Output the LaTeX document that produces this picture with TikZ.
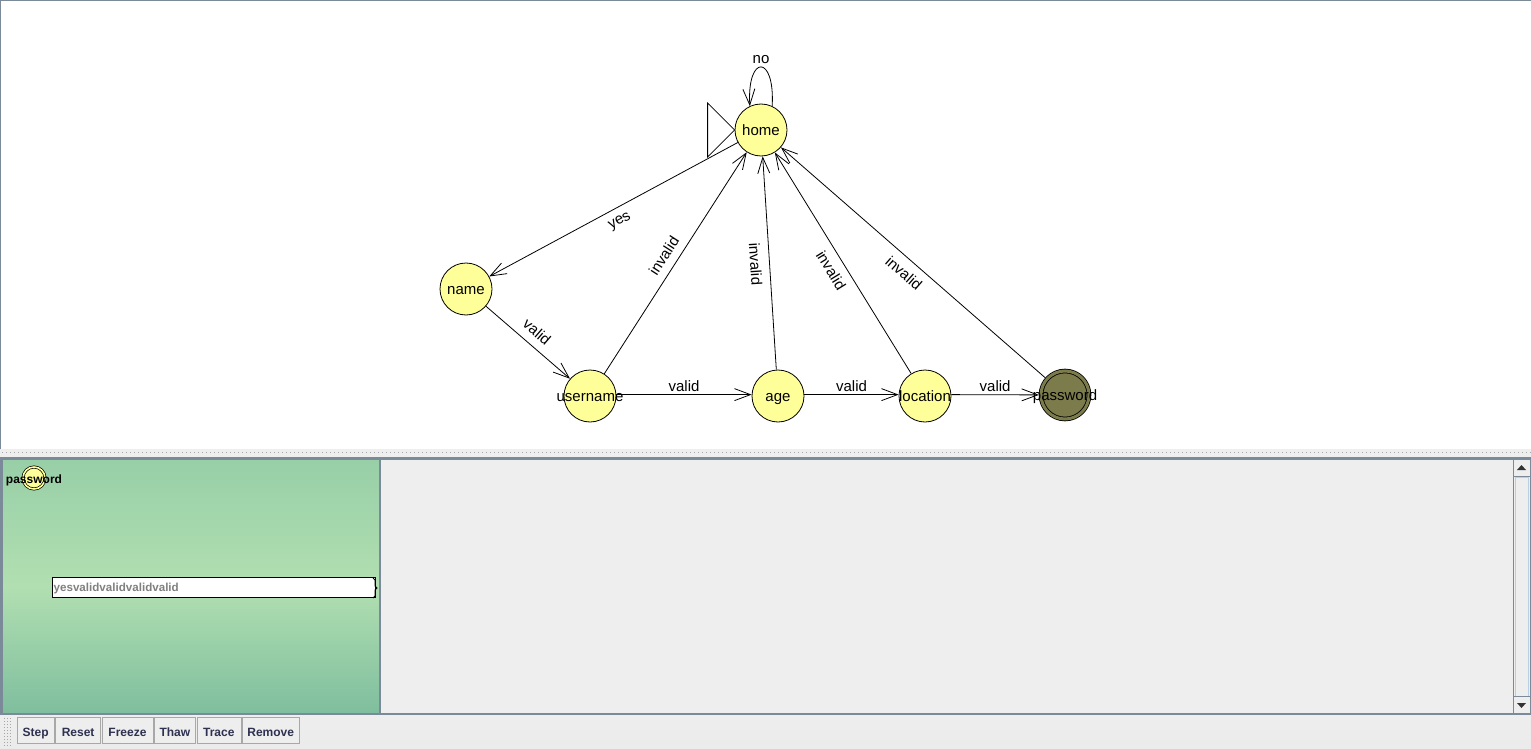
\documentclass[tikz,border=0pt]{standalone}
\usepackage{fontspec}
\setmainfont{Liberation Sans}
\usetikzlibrary{arrows.meta,positioning}
\definecolor{jaune}{HTML}{FFFF99}
\definecolor{olive}{HTML}{7B7B4B}
\definecolor{cadre}{HTML}{7A8A99}
\definecolor{fond}{HTML}{EEEEEE}
\definecolor{vertA}{HTML}{98CFA7}
\definecolor{vertB}{HTML}{B1DFB1}
\definecolor{vertC}{HTML}{7FBE9E}
\definecolor{marine}{HTML}{2E3150}
\definecolor{bord}{HTML}{A8A8A8}
\definecolor{bleu}{HTML}{B8CFE5}
\newcommand\nom[1]{\makebox[0pt]{#1}}
\begin{document}
\begin{tikzpicture}[x=1pt,y=1pt,
    etat/.style={circle, draw, line width=.8pt, fill=jaune, minimum size=52pt, inner sep=0pt, text height=11.5pt, text depth=0pt, font=\fontsize{15}{18}\selectfont},
    trans/.style={line width=.8pt, -{Straight Barb[length=16pt,width=12pt]}},
    lab/.style={font=\fontsize{15}{18}\selectfont, inner sep=3pt},
    labs/.style={lab, sloped, inner sep=8pt},
    bouton/.style={draw=bord, fill=fond, minimum height=26pt, inner sep=0pt, text height=12pt, text depth=0pt, font=\fontsize{12}{14}\selectfont\bfseries, text=marine}]
\useasboundingbox (0,0) rectangle (1531,-749);
% panneau du haut
\fill[white] (0,0) rectangle (1531,-449);
\draw[cadre] (0.5,-449) -- (0.5,-0.5) -- (1531,-0.5);
\fill[fond] (0,-449) rectangle (1531,-457);
\draw[gray!70, line width=1pt, dash pattern=on 1pt off 3pt] (2,-452.5) -- (1531,-452.5);
% les etats
\node[etat] (home) at (761,-130) {\nom{home}};
\node[etat] (name) at (466,-289) {\nom{name}};
\node[etat] (username) at (590,-396) {\nom{username}};
\node[etat] (age) at (778,-396) {\nom{age}};
\node[etat] (location) at (925,-396) {\nom{location}};
\node[etat, fill=olive, double=olive, double distance=3pt, minimum size=48pt, outer sep=2.2pt] (password) at (1065,-395) {\nom{password}};
\draw[line width=.8pt] (home.west) -- ++(-27,27) -- ++(0,-54) -- cycle;%etat initial
\draw[trans] (home.65) .. controls +(3,52) and +(-3,52) .. node[lab, above] {no} (home.115);
\draw[trans] (home) -- node[labs, below] {yes} (name);
\draw[trans] (name) -- node[labs, above] {valid} (username);
\draw[trans] (username.3) -- node[lab, above] {valid} (age.177);
\draw[trans] (age.3) -- node[lab, above] {valid} (location.177);
\draw[trans] (location.3) -- node[lab, above] {valid} (password);
\draw[trans] (username) -- node[labs, above] {invalid} (home);
\draw[trans] (age) -- node[labs, below] {invalid} (home);
\draw[trans] (location) -- node[labs, below] {invalid} (home);
\draw[trans] (password) -- node[labs, below] {invalid} (home);
% panneau du bas
\fill[cadre] (0,-457) rectangle (1531,-460);
\fill[cadre] (0,-460) rectangle (3,-715);
\shade[top color=vertA, bottom color=vertC, middle color=vertB] (3,-460) rectangle (379,-713);
\fill[cadre] (379,-460) rectangle (380.5,-713);
\fill[fond] (380.5,-460) rectangle (1513,-713);
\fill[fond] (1513,-460) rectangle (1530,-713);
\draw[cadre] (1513.5,-460) -- (1513.5,-713);
\draw[cadre] (1530.5,-460) -- (1530.5,-713);
\draw[bleu] (1515,-477) rectangle (1528,-696);
\draw[cadre] (1514,-476.5) -- (1530,-476.5) (1514,-696.5) -- (1530,-696.5);
\fill[black!80] (1517,-470) -- (1526,-470) -- (1521.5,-465) -- cycle;
\fill[black!80] (1517,-703) -- (1526,-703) -- (1521.5,-708) -- cycle;
\fill[cadre] (0,-713) rectangle (1531,-715);
\shade[top color=fond, bottom color=black!8] (0,-715) rectangle (1531,-749);
\foreach \i in {0,...,9}
  \foreach \j in {0,1,2}
    \fill[black!35] (4+3*\j,-718-3*\i) rectangle ++(1,-1);
% jeton
\node[circle, draw, line width=.7pt, fill=jaune, double=jaune, double distance=1.6pt, minimum size=22pt, inner sep=0pt,
      text height=10pt, text depth=0pt, font=\fontsize{12}{14}\selectfont\bfseries] (jeton) at (34,-478) {\nom{password}};
\draw[fill=white, line width=.8pt] (52.5,-577.5) rectangle (375.5,-597.5);
\draw[line width=.8pt] (373,-578) -- (375,-580) -- (375,-586) -- (377,-588) -- (375,-590) -- (375,-596) -- (373,-598);
\node[anchor=west, inner sep=0pt, text=black!50, font=\fontsize{11.6}{13}\selectfont\bfseries] (bande) at (53.5,-588) {yesvalidvalidvalidvalid};
% boutons
\node[bouton, minimum width=37pt, anchor=west] (step) at (17,-730) {Step};
\node[bouton, minimum width=45pt, right=1pt of step] (reset) {Reset};
\node[bouton, minimum width=51pt, right=1pt of reset] (freeze) {Freeze};
\node[bouton, minimum width=41pt, right=1pt of freeze] (thaw) {Thaw};
\node[bouton, minimum width=44pt, right=1pt of thaw] (trace) {Trace};
\node[bouton, minimum width=57pt, right=1pt of trace] (remove) {Remove};
\end{tikzpicture}
\end{document}
